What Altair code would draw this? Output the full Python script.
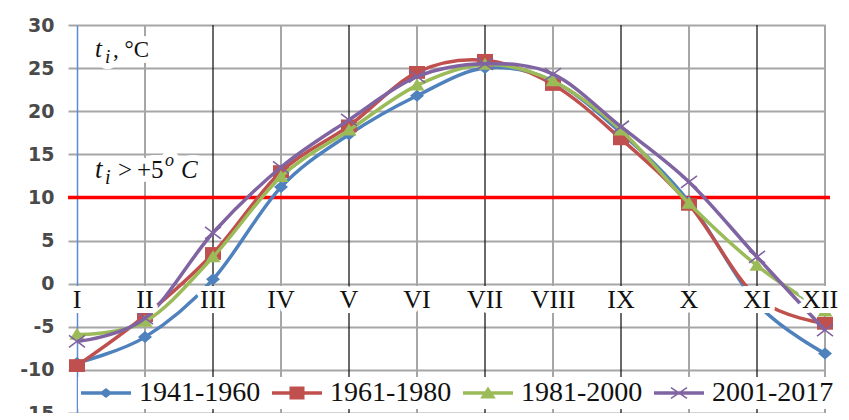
import altair as alt
import pandas as pd

# ---------------- data ----------------
MONTHS = ["I", "II", "III", "IV", "V", "VI", "VII", "VIII", "IX", "X", "XI", "XII"]
SERIES = ["1941-1960", "1961-1980", "1981-2000", "2001-2017"]
T_1941_1960 = [-9.2, -6.2, 0.5, 11.2, 17.3, 21.8, 25.0, 23.5, 17.5, 9.5, -2.3, -8.1]
T_1961_1980 = [-9.5, -3.7, 3.5, 13.0, 18.3, 24.5, 25.9, 23.1, 16.8, 9.2, -1.6, -4.6]
T_1981_2000 = [-5.9, -4.4, 3.1, 12.4, 17.8, 23.0, 25.4, 23.5, 17.8, 9.3, 2.1, -3.2]
T_2001_2017 = [-6.7, -4.0, 5.9, 13.5, 19.0, 24.0, 25.5, 24.3, 18.2, 11.8, 3.1, -5.4]
Y_TICKS = [-15, -10, -5, 0, 5, 10, 15, 20, 25, 30]
THRESHOLD = 10

# ---------------- style ----------------
COLORS = ["#4F81BD", "#C0504D", "#9BBB59", "#8064A2"]
SERIF = "Liberation Serif"
W, H = 748, 388


def f(v):
    return f"{v:.3f}"


def poly(pts):
    return "M" + "L".join(f"{f(x)},{f(y)}" for x, y in pts) + "Z"


def diamond(cx, cy, w, h):
    return poly([(cx, cy - h), (cx + w, cy), (cx, cy + h), (cx - w, cy)])


def square(cx, cy, w, h):
    return poly([(cx - w, cy - h), (cx + w, cy - h), (cx + w, cy + h), (cx - w, cy + h)])


def triangle(cx, cy, w, top, bot):
    return poly([(cx, cy - top), (cx + w, cy + bot), (cx - w, cy + bot)])


def xmark(cx, cy, a, b, t):
    L = (4 * a * a + 4 * b * b) ** 0.5
    dx, dy = 2 * a / L, 2 * b / L
    A, B = (cx - a, cy - b), (cx + a, cy + b)
    n = (-dy * t, dx * t)
    bar1 = [(A[0] - n[0], A[1] - n[1]), (B[0] - n[0], B[1] - n[1]),
            (B[0] + n[0], B[1] + n[1]), (A[0] + n[0], A[1] + n[1])]
    C, D = (cx - a, cy + b), (cx + a, cy - b)
    n2 = (dy * t, dx * t)
    bar2 = [(C[0] - n2[0], C[1] - n2[1]), (D[0] - n2[0], D[1] - n2[1]),
            (D[0] + n2[0], D[1] + n2[1]), (C[0] + n2[0], C[1] + n2[1])]
    return poly(bar1) + poly(bar2)


# chart markers (size 256 -> 8 px per unit)
MARKERS = [
    diamond(0, 0, 0.875, 0.75),
    square(0, 0, 1.0, 0.8),
    triangle(0, 0, 0.94, 0.85, 0.65),
    xmark(0, 0, 1.0, 0.75, 0.1),
]
# legend symbols (size 676 -> 13 px per unit), line + marker
MX = 0.923
LINE = square(0.923, 0, 1.923, 0.13)
LEG = [
    LINE + diamond(MX, 0, 0.5, 0.38),
    LINE + square(MX, 0, 0.577, 0.5),
    LINE + triangle(MX, 0, 0.6, 0.5, 0.42),
    LINE + xmark(MX, 0, 0.615, 0.42, 0.06),
]

rows = []
for s, vals in zip(SERIES, [T_1941_1960, T_1961_1980, T_1981_2000, T_2001_2017]):
    for i, (m, v) in enumerate(zip(MONTHS, vals)):
        rows.append({"month": i + 1, "label": m, "series": s, "t": v})
df = pd.DataFrame(rows)
months_df = pd.DataFrame({"month": list(range(1, len(MONTHS) + 1)), "label": MONTHS})
thr_df = pd.DataFrame({"t": [THRESHOLD]})
one = pd.DataFrame({"k": [0]})

XS = alt.Scale(domain=[1, 12], nice=False, zero=False)
YS = alt.Scale(domain=[-15, 30], nice=False, zero=False)
Y_AXIS = alt.Axis(
    values=Y_TICKS, title=None, grid=True, gridColor="#a6a6a6", gridWidth=2,
    tickColor="#a6a6a6", tickWidth=2, tickSize=9, domainColor="#5b8bd0",
    domainWidth=1.5, labelFont="DejaVu Sans", labelFontSize=19, labelFontWeight="bold",
    labelColor="#4a4a4a", labelPadding=14, labelExpr="'' + datum.value",
)
X = alt.X("month:Q", scale=XS, axis=None)
Y = alt.Y("t:Q", scale=YS, axis=Y_AXIS)

layers = []

# vertical grid lines
vg_gray = alt.Chart(months_df).transform_filter(
    "datum.month > 1 && datum.month % 2 == 0"
).mark_rule(stroke="#a6a6a6", strokeWidth=2).encode(
    x=X, y=alt.value(0), y2=alt.value(H + 4))
vg_black = alt.Chart(months_df).transform_filter(
    "datum.month > 1 && datum.month % 2 == 1"
).mark_rule(stroke="#1a1a1a", strokeWidth=1.3).encode(
    x=X, y=alt.value(0), y2=alt.value(H + 4))
layers += [vg_gray, vg_black]

# threshold line
thr = alt.Chart(thr_df).mark_rule(stroke="#ff0000", strokeWidth=3.5).encode(
    y=Y, x=alt.value(-9), x2=alt.value(W + 5))
layers.append(thr)

# series
for s, c, mk in zip(SERIES, COLORS, MARKERS):
    base = alt.Chart(df).transform_filter(alt.datum.series == s)
    line = base.mark_line(stroke=c, strokeWidth=3.5, interpolate="cardinal").encode(x=X, y=Y)
    pts = base.mark_point(shape=mk, filled=True, fill=c, size=256, opacity=1,
                          strokeWidth=0).encode(x=X, y=Y)
    layers += [line, pts]

# month labels with white boxes (last one nudged left to stay inside the page)
last = len(MONTHS)
for cond, dx in [(f"datum.month < {last}", 0), (f"datum.month == {last}", -5)]:
    lab_base = alt.Chart(months_df).transform_filter(cond).encode(
        x=X, y=alt.value(275), text="label:N")
    layers.append(lab_base.mark_text(font=SERIF, fontSize=26, align="center",
                                     baseline="middle", dx=dx, fill="white", stroke="white",
                                     strokeWidth=10, strokeJoin="round"))
    layers.append(lab_base.mark_text(font=SERIF, fontSize=26, align="center",
                                     baseline="middle", dx=dx, fill="#111111"))

# annotations
ANNOT = [
    ("t", 18, 32, 25, "italic"),
    ("i", 28, 38, 19, "italic"),
    (", °C", 36, 32, 23, "normal"),
    ("t", 18, 153, 27, "italic"),
    ("i", 28, 159, 20, "italic"),
    (">", 41, 153, 25, "normal"),
    ("+5", 60, 153, 25, "normal"),
    ("o", 88, 141, 18, "italic"),
    ("C", 104, 153, 25, "italic"),
]
halos, fronts = [], []
for s, x, y, size, style in ANNOT:
    b = alt.Chart(one).encode(x=alt.value(x), y=alt.value(y))
    halos.append(b.mark_text(text=s, font=SERIF, fontSize=size, fontStyle=style, align="left",
                             baseline="alphabetic", fill="white", stroke="white",
                             strokeWidth=12, strokeJoin="round"))
    fronts.append(b.mark_text(text=s, font=SERIF, fontSize=size, fontStyle=style, align="left",
                              baseline="alphabetic", fill="#111111"))
layers += halos + fronts

# legend
LEGEND = alt.Legend(
    title=None, orient="none", direction="horizontal", legendX=1, legendY=352,
    padding=2, fillColor="white", labelFont=SERIF, labelFontSize=28,
    labelColor="#111111", symbolSize=676, symbolStrokeWidth=0, labelOffset=31,
    columnPadding=10, symbolOffset=0, labelLimit=300,
)
leg = alt.Chart(df).transform_filter("false").mark_point(
    filled=True, opacity=1, size=676).encode(
    x=X, y=Y,
    color=alt.Color("series:N", scale=alt.Scale(domain=SERIES, range=COLORS), legend=LEGEND),
    shape=alt.Shape("series:N", scale=alt.Scale(domain=SERIES, range=LEG), legend=LEGEND),
)
layers.append(leg)

chart = alt.layer(*layers).properties(
    width=W, height=H,
    autosize=alt.AutoSizeParams(type="none"),
    padding={"left": 69, "top": 17, "right": 16, "bottom": 0},
).configure_view(stroke=None).configure_legend(
    labelFont=SERIF, labelFontSize=28, labelColor="#111111"
)

chart.save("out.html", embed_options={"renderer": "svg", "actions": False})
